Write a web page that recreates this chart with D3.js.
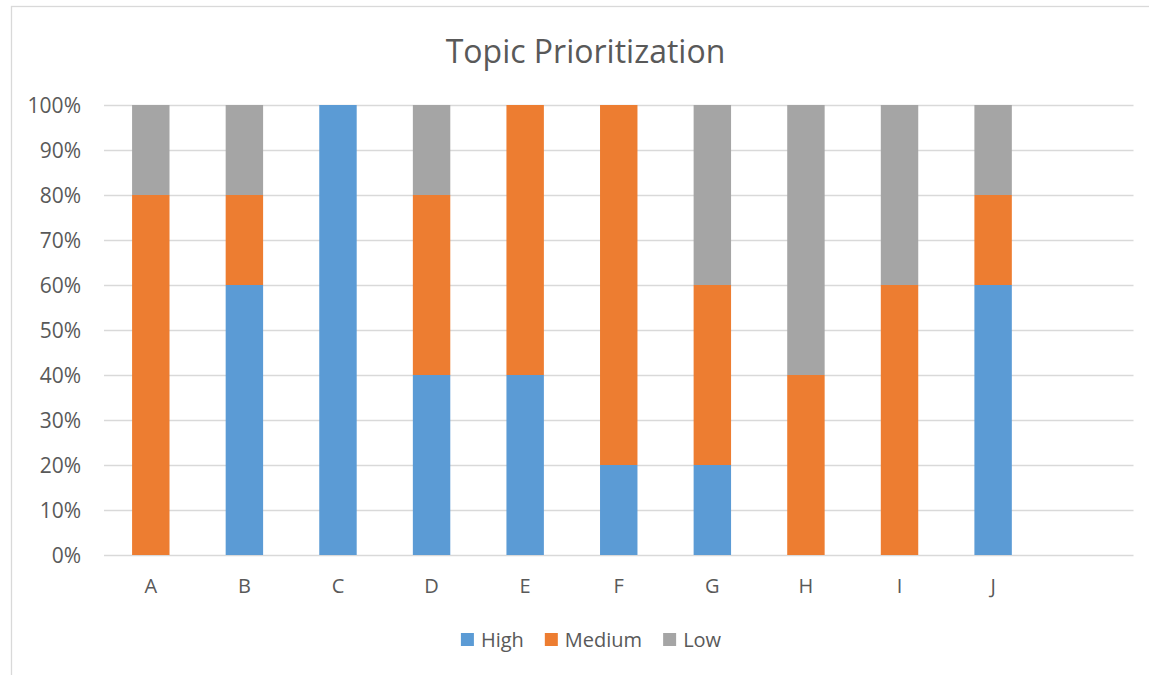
<!DOCTYPE html>
<html>
<head>
<meta charset="utf-8">
<script src="https://cdn.jsdelivr.net/npm/d3@7"></script>
<style>
  body { margin: 0; background: #fff; }
  text { font-family: 'Open Sans', sans-serif; fill: #595959; }
</style>
</head>
<body>
<div class="draw-section"></div>
<script>
const title = 'Topic Prioritization';
const categories = ['A', 'B', 'C', 'D', 'E', 'F', 'G', 'H', 'I', 'J'];
const high = [0, 60, 100, 40, 40, 20, 20, 0, 0, 60];
const medium = [80, 20, 0, 40, 60, 80, 40, 40, 60, 20];
const low = [20, 20, 0, 20, 0, 0, 40, 60, 40, 20];
const seriesNames = ['High', 'Medium', 'Low'];
const seriesColors = ['#5b9bd5', '#ed7d31', '#a5a5a5'];
const yTicks = [0, 0.1, 0.2, 0.3, 0.4, 0.5, 0.6, 0.7, 0.8, 0.9, 1];

const W = 1149, H = 675;
const plot = { left: 104, right: 1133.5, top: 105, bottom: 555 };

const svg = d3.select('.draw-section')
  .append('svg')
  .attr('width', W)
  .attr('height', H);

// chart frame (runs off the right/bottom edge like the screenshot)
svg.append('rect')
  .attr('x', 11.5)
  .attr('y', 6.5)
  .attr('width', 1150)
  .attr('height', 700)
  .attr('fill', 'none')
  .attr('stroke', '#d9d9d9')
  .attr('stroke-width', 1.3);

// the source sheet has one blank row after J, so keep an empty slot
const slots = categories.concat(['']);

const x = d3.scaleBand()
  .domain(slots)
  .range([plot.left, plot.right])
  .paddingInner(0.6)
  .paddingOuter(0.3);

const y = d3.scaleLinear()
  .domain([0, 1])
  .range([plot.bottom, plot.top]);

// gridlines + y labels
const yAxis = d3.axisLeft(y)
  .tickValues(yTicks)
  .tickFormat(d3.format('.0%'))
  .tickSize(-(plot.right - plot.left))
  .tickPadding(23);

const gy = svg.append('g')
  .attr('transform', `translate(${plot.left},0)`)
  .call(yAxis);
gy.select('.domain').remove();
gy.selectAll('line').attr('stroke', '#d9d9d9').attr('stroke-width', 1.3);
gy.selectAll('text')
  .style('font-size', '21px')
  .style('font-family', "'Open Sans', sans-serif")
  .attr('fill', '#595959')
  .attr('dy', '0.36em');

// stacked bars
const rows = categories.map((c, i) => ({
  cat: c,
  High: high[i] / 100,
  Medium: medium[i] / 100,
  Low: low[i] / 100
}));

const stacked = d3.stack().keys(seriesNames)(rows);
const color = d3.scaleOrdinal().domain(seriesNames).range(seriesColors);

svg.append('g')
  .selectAll('g')
  .data(stacked)
  .enter()
  .append('g')
  .attr('fill', d => color(d.key))
  .selectAll('rect')
  .data(d => d)
  .enter()
  .append('rect')
  .attr('x', d => x(d.data.cat))
  .attr('y', d => y(d[1]))
  .attr('width', x.bandwidth())
  .attr('height', d => y(d[0]) - y(d[1]));

// x labels
const xAxis = d3.axisBottom(x).tickSize(0).tickPadding(24);
const gx = svg.append('g')
  .attr('transform', `translate(0,${plot.bottom})`)
  .call(xAxis);
gx.select('.domain').remove();
gx.selectAll('text')
  .style('font-size', '20px')
  .style('font-family', "'Open Sans', sans-serif")
  .attr('fill', '#595959');

// title
svg.append('text')
  .attr('x', 585.5)
  .attr('y', 63)
  .attr('text-anchor', 'middle')
  .style('font-size', '32px')
  .text(title);

// legend
const legend = svg.append('g');
const items = legend.selectAll('g')
  .data(seriesNames)
  .enter()
  .append('g');
items.append('rect')
  .attr('width', 13)
  .attr('height', 13)
  .attr('y', 633)
  .attr('fill', d => color(d));
items.append('text')
  .attr('x', 20)
  .attr('y', 647)
  .style('font-size', '20px')
  .text(d => d);

let offset = 0;
const widths = [];
items.each(function() {
  const w = 20 + d3.select(this).select('text').node().getComputedTextLength();
  widths.push(w);
});
const gap = 21;
const total = d3.sum(widths) + gap * (widths.length - 1);
const start = 591 - total / 2;
items.attr('transform', (d, i) => {
  const t = `translate(${start + offset},0)`;
  offset += widths[i] + gap;
  return t;
});
</script>
</body>
</html>
